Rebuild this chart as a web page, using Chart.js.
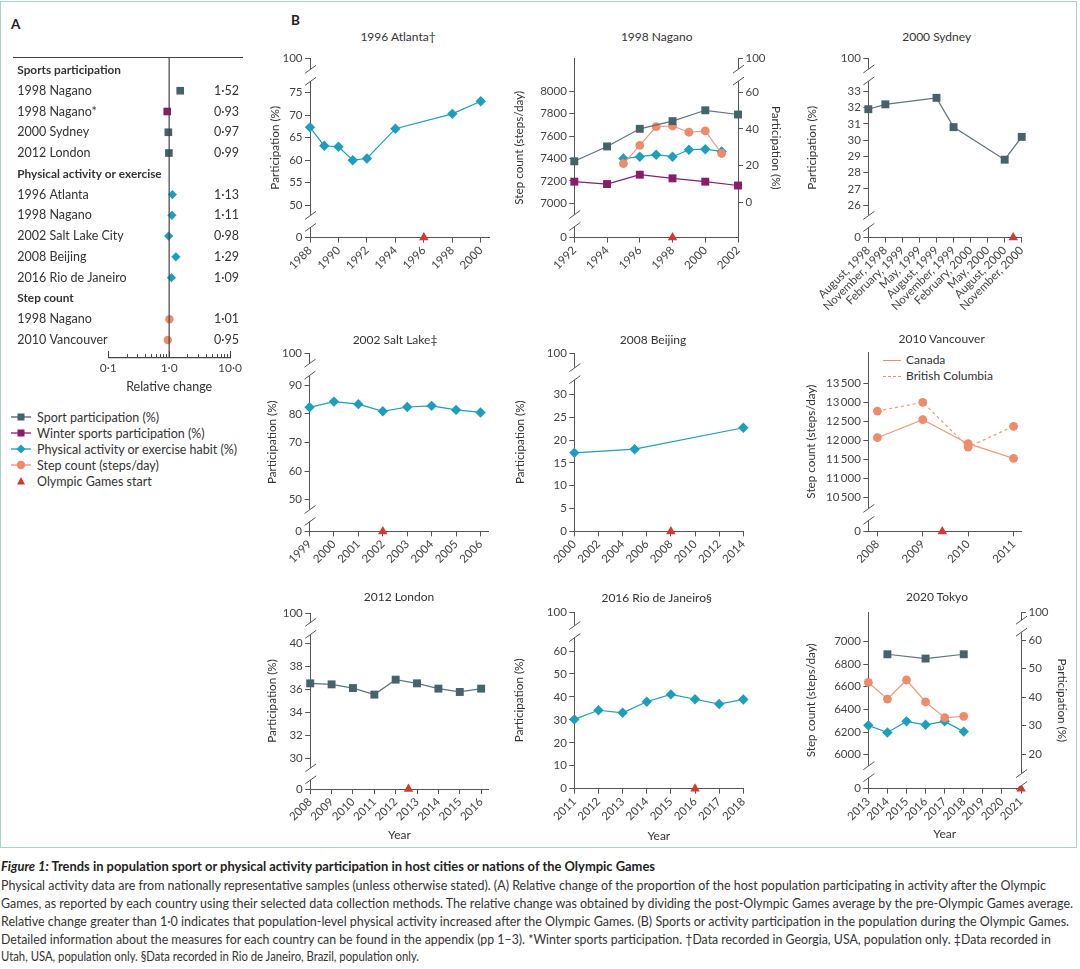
<!DOCTYPE html>
<html>
<head>
<meta charset="utf-8">
<title>Olympic Games physical activity trends</title>
<script src="https://cdn.jsdelivr.net/npm/chart.js@4.4.1/dist/chart.umd.min.js"></script>
<style>
  body { margin: 0; width: 1080px; height: 969px; position: relative; overflow: hidden; background: #fff;
         font-family: Lato, "Open Sans", sans-serif; color: #333; }
  #frame { position: absolute; left: 0; top: 1px; width: 1075px; height: 845px; border: 1.5px solid #a9d3c2; }
  .abs { position: absolute; white-space: nowrap; }
  .ttl { position: absolute; white-space: nowrap; font-size: 12px; color: #333; transform: translate(-50%, -50%); }
  .letter { position: absolute; font-weight: bold; font-size: 13.5px; color: #222; }
  .leg { position: absolute; left: 11px; font-size: 12.5px; color: #333; display: flex; align-items: center; height: 16px; }
  .leg svg { margin-right: 4px; }
  .cap { position: absolute; left: 1px; white-space: nowrap; font-size: 13px; line-height: 18px; color: #333; transform-origin: 0 50%; }
  canvas { position: absolute; }
</style>
</head>
<body>
<div id="frame"></div>
<div class="letter" style="left:11px;top:16px">A</div>
<div class="letter" style="left:291px;top:12px">B</div>
<div class="abs" style="left:12.7px;top:56.7px;width:230.6px;border-top:1.2px solid #444"></div>

<div class="leg" style="top:409px">
  <svg width="22" height="12"><line x1="0" y1="6" x2="20" y2="6" stroke="#46626b" stroke-width="1.3"/><rect x="6.5" y="2.5" width="7" height="7" fill="#46626b"/></svg>Sport participation (%)</div>
<div class="leg" style="top:425px">
  <svg width="22" height="12"><line x1="0" y1="6" x2="20" y2="6" stroke="#8a1c6e" stroke-width="1.3"/><rect x="6.5" y="2.5" width="7" height="7" fill="#8a1c6e"/></svg>Winter sports participation (%)</div>
<div class="leg" style="top:441px">
  <svg width="22" height="12"><line x1="0" y1="6" x2="20" y2="6" stroke="#1c9fbf" stroke-width="1.3"/><polygon points="10,1.5 14.5,6 10,10.5 5.5,6" fill="#1c9fbf"/></svg>Physical activity or exercise habit (%)</div>
<div class="leg" style="top:457px">
  <svg width="22" height="12"><line x1="0" y1="6" x2="20" y2="6" stroke="#ee8b6b" stroke-width="1.3"/><circle cx="10" cy="6" r="4.2" fill="#ee8b6b"/></svg>Step count (steps/day)</div>
<div class="leg" style="top:473px">
  <svg width="22" height="12"><polygon points="10,2 14,9.5 6,9.5" fill="#d9372c"/></svg>Olympic Games start</div>

<div class="abs" style="left:882.7px;top:360px;width:18.5px;border-top:1.2px solid #ee8b6b"></div>
<div class="abs" style="left:906px;top:352px;font-size:12px;color:#333">Canada</div>
<div class="abs" style="left:882.7px;top:376px;width:18.5px;border-top:1.2px dashed #ee8b6b"></div>
<div class="abs" style="left:906px;top:368px;font-size:12px;color:#333">British Columbia</div>

<span class="cap" data-w="654" style="top:857px;font-weight:bold;color:#222"><i>Figure 1:</i> Trends in population sport or physical activity participation in host cities or nations of the Olympic Games</span>
<span class="cap" data-w="1045" style="top:876px">Physical activity data are from nationally representative samples (unless otherwise stated). (A) Relative change of the proportion of the host population participating in activity after the Olympic</span>
<span class="cap" data-w="1072" style="top:894px">Games, as reported by each country using their selected data collection methods. The relative change was obtained by dividing the post-Olympic Games average by the pre-Olympic Games average.</span>
<span class="cap" data-w="1068" style="top:912px">Relative change greater than 1·0 indicates that population-level physical activity increased after the Olympic Games. (B) Sports or activity participation in the population during the Olympic Games.</span>
<span class="cap" data-w="1050" style="top:930px">Detailed information about the measures for each country can be found in the appendix (pp 1–3). *Winter sports participation. †Data recorded in Georgia, USA, population only. ‡Data recorded in</span>
<span class="cap" data-w="418" style="top:947px">Utah, USA, population only. §Data recorded in Rio de Janeiro, Brazil, population only.</span>

<script>
// ---- Panel A: relative change after the Games ----
const forestLabels = ['Sports participation', '1998 Nagano', '1998 Nagano*', '2000 Sydney', '2012 London',
  'Physical activity or exercise', '1996 Atlanta', '1998 Nagano', '2002 Salt Lake City', '2008 Beijing',
  '2016 Rio de Janeiro', 'Step count', '1998 Nagano', '2010 Vancouver'];
const forestHeaders = [0, 5, 11];
const forestKinds = [null, 'sport', 'winter', 'sport', 'sport', null, 'pa', 'pa', 'pa', 'pa', 'pa', null, 'step', 'step'];
const forestValues = [null, 1.52, 0.93, 0.97, 0.99, null, 1.13, 1.11, 0.98, 1.29, 1.09, null, 1.01, 0.95];
const logTicks = [0.1, 1, 10];
const logTickLabels = ['0·1', '1·0', '10·0'];
const logMinorTicks = [0.2, 0.3, 0.4, 0.5, 0.6, 0.7, 0.8, 0.9, 2, 3, 4, 5, 6, 7, 8, 9];

// ---- 1996 Atlanta ----
const atlantaYears = [1988, 1989, 1990, 1991, 1992, 1994, 1998, 2000];
const atlantaActivity = [67.3, 63.2, 63.0, 60.0, 60.4, 67.0, 70.3, 73.1];
const atlantaXTicks = [1988, 1990, 1992, 1994, 1996, 1998, 2000];
const atlantaYTicks = [0, 50, 55, 60, 65, 70, 75, 100];
const atlantaStart = 1996;

// ---- 1998 Nagano ----
const naganoSportYears = [1992, 1994, 1996, 1998, 2000, 2002];
const naganoSport = [22.3, 30.4, 40.0, 44.2, 50.1, 47.8];
const naganoWinter = [11.2, 9.9, 15.0, 13.0, 11.2, 9.1];
const naganoActivityYears = [1995, 1996, 1997, 1998, 1999, 2000, 2001];
const naganoActivity = [23.8, 24.8, 25.9, 24.8, 28.6, 28.9, 27.7];
const naganoSteps = [7355, 7518, 7685, 7691, 7635, 7647, 7445];
const naganoXTicks = [1992, 1994, 1996, 1998, 2000, 2002];
const naganoStepTicks = [0, 7000, 7200, 7400, 7600, 7800, 8000];
const naganoPctTicks = [0, 20, 40, 60, 100];
const naganoStart = 1998;

// ---- 2000 Sydney (quarterly surveys) ----
const sydneyTickLabels = ['August, 1998', 'November, 1998', 'February, 1999', 'May, 1999', 'August, 1999',
  'November, 1999', 'February, 2000', 'May, 2000', 'August, 2000', 'November, 2000'];
const sydneyXTicks = [0, 1, 2, 3, 4, 5, 6, 7, 8, 9];
const sydneyQuarters = [0, 1, 4, 5, 8, 9];
const sydneySport = [31.9, 32.2, 32.6, 30.8, 28.8, 30.2];
const sydneyYTicks = [0, 26, 27, 28, 29, 30, 31, 32, 33, 100];
const sydneyStart = 8.5;

// ---- 2002 Salt Lake ----
const saltLakeYears = [1999, 2000, 2001, 2002, 2003, 2004, 2005, 2006];
const saltLakeActivity = [82.3, 84.3, 83.4, 80.9, 82.4, 82.8, 81.4, 80.5];
const saltLakeYTicks = [0, 50, 60, 70, 80, 90, 100];
const saltLakeStart = 2002;

// ---- 2008 Beijing ----
const beijingYears = [2000, 2005, 2014];
const beijingActivity = [17.2, 18.0, 22.7];
const beijingXTicks = [2000, 2002, 2004, 2006, 2008, 2010, 2012, 2014];
const beijingYTicks = [0, 5, 10, 15, 20, 25, 30, 100];
const beijingStart = 2008;

// ---- 2010 Vancouver ----
const vancouverYears = [2008, 2009, 2010, 2011];
const vancouverCanada = [12065, 12538, 11908, 11523];
const vancouverBC = [12765, 12993, 11820, 12363];
const vancouverYTicks = [0, 10500, 11000, 11500, 12000, 12500, 13000, 13500];
const vancouverStart = 2009.43;

// ---- 2012 London ----
const londonYears = [2008, 2009, 2010, 2011, 2012, 2013, 2014, 2015, 2016];
const londonSport = [36.55, 36.46, 36.14, 35.57, 36.87, 36.55, 36.09, 35.80, 36.09];
const londonYTicks = [0, 30, 32, 34, 36, 38, 40, 100];
const londonStart = 2012.6;

// ---- 2016 Rio de Janeiro ----
const rioYears = [2011, 2012, 2013, 2014, 2015, 2016, 2017, 2018];
const rioActivity = [30.2, 34.2, 33.1, 37.9, 41.1, 39.0, 36.9, 38.9];
const rioYTicks = [0, 10, 20, 30, 40, 50, 60, 100];
const rioStart = 2016;

// ---- 2020 Tokyo ----
const tokyoSportYears = [2014, 2016, 2018];
const tokyoSport = [55.1, 53.6, 55.1];
const tokyoYears = [2013, 2014, 2015, 2016, 2017, 2018];
const tokyoSteps = [6638, 6491, 6659, 6465, 6326, 6338];
const tokyoActivity = [30.1, 27.6, 31.5, 30.3, 31.5, 27.9];
const tokyoXTicks = [2013, 2014, 2015, 2016, 2017, 2018, 2019, 2020, 2021];
const tokyoStepTicks = [0, 6000, 6200, 6400, 6600, 6800, 7000];
const tokyoPctTicks = [20, 30, 40, 50, 60, 100];
const tokyoStart = 2021;

// ---- styles ----
const FONT = 'Lato, "Open Sans", sans-serif';
const AXIS = '#555';
const TICK_TEXT = '#444';
const TEXT = '#333';
const GREY = '#46626b';
const PURPLE = '#8a1c6e';
const TEAL = '#1c9fbf';
const ORANGE = '#ee8b6b';
const RED = '#d9372c';

const kindStyle = {
  sport:  { color: GREY,   line: '#5b747c', style: 'rect',    r: 5.6 },
  winter: { color: PURPLE, line: PURPLE,    style: 'rect',    r: 5.6 },
  pa:     { color: TEAL,   line: TEAL,      style: 'rectRot', r: 5.2 },
  step:   { color: ORANGE, line: '#f09b7e', style: 'circle',  r: 4.4 }
};

// y scale with broken segments: "stops" maps values to axis fractions piecewise
class BrokenScale extends Chart.LinearScale {
  static id = 'broken';
  _frac(v) {
    const s = this.options.stops;
    for (let i = 1; i < s.length; i++) {
      if (v <= s[i][0] || i === s.length - 1) {
        const a = s[i - 1], b = s[i];
        return a[1] + (v - a[0]) * (b[1] - a[1]) / (b[0] - a[0]);
      }
    }
  }
  getPixelForValue(v) {
    if (v === null || v === undefined || isNaN(v)) return NaN;
    return this.getPixelForDecimal(this._frac(v));
  }
  getValueForPixel(px) {
    const d = this.getDecimalForPixel(px);
    const s = this.options.stops;
    for (let i = 1; i < s.length; i++) {
      if (d <= s[i][1] || i === s.length - 1) {
        const a = s[i - 1], b = s[i];
        return a[0] + (d - a[1]) * (b[0] - a[0]) / (b[1] - a[1]);
      }
    }
  }
}
Chart.register(BrokenScale);

// double-slash marks where an axis is broken
const breakMarks = {
  id: 'breakMarks',
  afterDraw(chart) {
    const ctx = chart.ctx;
    Object.values(chart.scales).forEach(s => {
      const br = s.options.breaks;
      if (!br || !br.length) return;
      const x = s.position === 'left' ? s.right : s.left;
      br.forEach(v => {
        const y = s.getPixelForValue(v);
        ctx.save();
        ctx.fillStyle = '#fff';
        ctx.fillRect(x - 2, y - 6, 4, 12);
        ctx.strokeStyle = AXIS;
        ctx.lineWidth = 1;
        [-6, 6].forEach(d => {
          ctx.beginPath();
          ctx.moveTo(x - 5, y + d + 4);
          ctx.lineTo(x + 6, y + d - 4);
          ctx.stroke();
        });
        ctx.restore();
      });
    });
  }
};

const fmtNum = v => v >= 10000 ? String(v).replace(/(\d+)(\d{3})$/, '$1\u2009$2') : String(v);
const tickFont = { family: FONT, size: 11.5 };
const titleFont = { family: FONT, size: 11.7 };
const titleOff = 11.7 * 1.2 / 2;

function addCanvas(id, left, top, w, h) {
  const c = document.createElement('canvas');
  c.id = id;
  c.width = w; c.height = h;
  c.style.left = left + 'px';
  c.style.top = top + 'px';
  c.style.width = w + 'px';
  c.style.height = h + 'px';
  document.body.appendChild(c);
  return c;
}

function addTitle(text, x, y) {
  const d = document.createElement('div');
  d.className = 'ttl';
  d.style.left = x + 'px';
  d.style.top = y + 'px';
  d.textContent = text;
  document.body.appendChild(d);
}

function yAxis(cfg, position, width) {
  return {
    type: 'broken', position,
    stops: cfg.stops, breaks: cfg.breaks,
    min: cfg.stops[0][0], max: cfg.stops[cfg.stops.length - 1][0],
    afterBuildTicks: s => { s.ticks = cfg.ticks.map(v => ({ value: v })); },
    afterFit: s => { s.width = width; s.paddingTop = 0; s.paddingBottom = 0; },
    border: { display: true, color: AXIS, width: 1 },
    grid: { display: true, drawOnChartArea: false, drawTicks: true, tickLength: 5, color: AXIS },
    ticks: { color: TICK_TEXT, font: tickFont, padding: 2.5, callback: v => fmtNum(v) },
    title: { display: true, text: cfg.title, color: TEXT, font: titleFont, padding: 0 }
  };
}

function buildPanel(p) {
  const cl = p.yTitleX - titleOff;
  const ct = p.T - 12;
  const rightW = p.y1 ? p.y1.titleX + titleOff - p.R : 0;
  const rightEdge = p.y1 ? p.y1.titleX + titleOff : p.R + 14;
  const w = Math.ceil(rightEdge - cl);
  const h = Math.ceil(p.B + p.xH - ct);
  const canvas = addCanvas(p.id, cl, ct, w, h);
  addTitle(p.title, p.titleX, p.titleY);

  const datasets = p.series.map(s => {
    const st = kindStyle[s.kind];
    return {
      type: 'line',
      data: s.xs.map((x, i) => ({ x, y: s.ys[i] })),
      yAxisID: s.axis || 'y',
      borderColor: st.line, borderWidth: 1.2, borderDash: s.dash || [],
      pointStyle: st.style, pointRadius: st.r, pointBackgroundColor: st.color, pointBorderWidth: 0,
      tension: 0, clip: false
    };
  });
  datasets.push({
    type: 'line', data: [{ x: p.start, y: 0 }], yAxisID: 'y', showLine: false,
    pointStyle: 'triangle', pointRadius: 5.5, pointBackgroundColor: RED, pointBorderWidth: 0, clip: false
  });

  const xLabels = p.x.labels;
  const scales = {
    x: {
      type: 'linear', min: p.x.min, max: p.x.max,
      afterBuildTicks: s => { s.ticks = p.x.ticks.map(v => ({ value: v })); },
      afterFit: s => { s.height = p.xH; s.paddingLeft = 0; s.paddingRight = 0; },
      border: { display: true, color: AXIS, width: 1 },
      grid: { display: true, drawOnChartArea: false, drawTicks: true, tickLength: 5, color: AXIS },
      ticks: { autoSkip: false, minRotation: 45, maxRotation: 45, padding: 1, color: TICK_TEXT, font: tickFont,
               callback: (v, i) => xLabels ? xLabels[i] : String(v) },
      title: { display: !!p.xTitle, text: p.xTitle || '', color: TEXT, font: { family: FONT, size: 12 }, padding: 0 }
    },
    y: yAxis(p.y, 'left', p.L - cl)
  };
  if (p.y1) {
    scales.y1 = yAxis(p.y1, 'right', rightW);
  }

  new Chart(canvas, {
    type: 'line',
    data: { datasets },
    options: {
      responsive: false, animation: false, events: [],
      layout: { autoPadding: false, padding: { left: 0, top: p.T - ct, right: w - (p.R - cl) - rightW, bottom: h - (p.B - ct) - p.xH } },
      plugins: { legend: { display: false }, tooltip: { enabled: false }, title: { display: false } },
      scales
    },
    plugins: [breakMarks]
  });
}

const panels = [
  { id: 'atlanta', title: '1996 Atlanta†', titleX: 398, titleY: 36, yTitleX: 275,
    L: 310, T: 57.7, R: 489, B: 237.3, xH: 60,
    x: { min: 1988, max: 2000.58, ticks: atlantaXTicks },
    y: { title: 'Participation (%)', stops: [[0, 0], [50, 0.18], [75, 0.807], [100, 1]], ticks: atlantaYTicks, breaks: [25, 87.5] },
    series: [{ xs: atlantaYears, ys: atlantaActivity, kind: 'pa' }], start: atlantaStart },
  { id: 'nagano', title: '1998 Nagano', titleX: 656.7, titleY: 36, yTitleX: 519,
    L: 574.3, T: 57.7, R: 738, B: 237.3, xH: 60,
    x: { min: 1992, max: 2002, ticks: naganoXTicks },
    y: { title: 'Step count (steps/day)', stops: [[0, 0], [7000, 0.191], [8000, 0.814], [8300, 1]], ticks: naganoStepTicks, breaks: [3500] },
    y1: { title: 'Participation (%)', titleX: 775.7, stops: [[-19.3, 0], [0, 0.197], [60, 0.81], [100, 1]], ticks: naganoPctTicks, breaks: [80] },
    series: [
      { xs: naganoSportYears, ys: naganoSport, kind: 'sport', axis: 'y1' },
      { xs: naganoSportYears, ys: naganoWinter, kind: 'winter', axis: 'y1' },
      { xs: naganoActivityYears, ys: naganoSteps, kind: 'step', axis: 'y' },
      { xs: naganoActivityYears, ys: naganoActivity, kind: 'pa', axis: 'y1' }
    ], start: naganoStart },
  { id: 'sydney', title: '2000 Sydney', titleX: 936.7, titleY: 36, yTitleX: 812,
    L: 868.3, T: 57.7, R: 1021.7, B: 237.3, xH: 95,
    x: { min: 0, max: 9, ticks: sydneyXTicks, labels: sydneyTickLabels },
    y: { title: 'Participation (%)', stops: [[0, 0], [26, 0.18], [33, 0.8145], [100, 1]], ticks: sydneyYTicks, breaks: [13, 66] },
    series: [{ xs: sydneyQuarters, ys: sydneySport, kind: 'sport' }], start: sydneyStart },
  { id: 'saltlake', title: '2002 Salt Lake‡', titleX: 395, titleY: 339, yTitleX: 272.5,
    L: 310, T: 353.3, R: 489.3, B: 531.7, xH: 60,
    x: { min: 1999, max: 2006.34, ticks: saltLakeYears },
    y: { title: 'Participation (%)', stops: [[0, 0], [50, 0.178], [90, 0.819], [100, 1]], ticks: saltLakeYTicks, breaks: [25, 95] },
    series: [{ xs: saltLakeYears, ys: saltLakeActivity, kind: 'pa' }], start: saltLakeStart },
  { id: 'beijing', title: '2008 Beijing', titleX: 653, titleY: 338.7, yTitleX: 520,
    L: 574.3, T: 353.3, R: 743.3, B: 531.7, xH: 60,
    x: { min: 2000, max: 2014, ticks: beijingXTicks },
    y: { title: 'Participation (%)', stops: [[0, 0], [30, 0.768], [100, 1]], ticks: beijingYTicks, breaks: [65] },
    series: [{ xs: beijingYears, ys: beijingActivity, kind: 'pa' }], start: beijingStart },
  { id: 'vancouver', title: '2010 Vancouver', titleX: 941.7, titleY: 338.3, yTitleX: 811,
    L: 868.3, T: 352.3, R: 1021.7, B: 531.7, xH: 60,
    x: { min: 2007.8, max: 2011.18, ticks: vancouverYears },
    y: { title: 'Step count (steps/day)', stops: [[0, 0], [10500, 0.19], [13500, 0.827], [14313, 1]], ticks: vancouverYTicks, breaks: [5250] },
    series: [
      { xs: vancouverYears, ys: vancouverBC, kind: 'step', dash: [3, 3] },
      { xs: vancouverYears, ys: vancouverCanada, kind: 'step' }
    ], start: vancouverStart },
  { id: 'london', title: '2012 London', titleX: 399, titleY: 595.7, yTitleX: 272.5,
    L: 310.7, T: 613.3, R: 489.3, B: 789.3, xH: 52.9, xTitle: 'Year',
    x: { min: 2008, max: 2016.36, ticks: londonYears },
    y: { title: 'Participation (%)', stops: [[0, 0], [30, 0.172], [40, 0.826], [100, 1]], ticks: londonYTicks, breaks: [15, 70] },
    series: [{ xs: londonYears, ys: londonSport, kind: 'sport' }], start: londonStart },
  { id: 'rio', title: '2016 Rio de Janeiro§', titleX: 656.7, titleY: 596.7, yTitleX: 519,
    L: 574.3, T: 612.3, R: 743.3, B: 789, xH: 54.2, xTitle: 'Year',
    x: { min: 2011, max: 2018, ticks: rioYears },
    y: { title: 'Participation (%)', stops: [[0, 0], [60, 0.779], [100, 1]], ticks: rioYTicks, breaks: [80] },
    series: [{ xs: rioYears, ys: rioActivity, kind: 'pa' }], start: rioStart },
  { id: 'tokyo', title: '2020 Tokyo', titleX: 937, titleY: 595.7, yTitleX: 811,
    L: 868.3, T: 612.3, R: 1021, B: 789, xH: 52.2, xTitle: 'Year',
    x: { min: 2013, max: 2021, ticks: tokyoXTicks },
    y: { title: 'Step count (steps/day)', stops: [[0, 0], [6000, 0.1925], [7000, 0.834], [7259, 1]], ticks: tokyoStepTicks, breaks: [3000] },
    y1: { title: 'Participation (%)', titleX: 1062, stops: [[7.8, 0], [20, 0.196], [60, 0.8396], [100, 1]], ticks: tokyoPctTicks, breaks: [11, 80] },
    series: [
      { xs: tokyoSportYears, ys: tokyoSport, kind: 'sport', axis: 'y1' },
      { xs: tokyoYears, ys: tokyoSteps, kind: 'step', axis: 'y' },
      { xs: tokyoYears, ys: tokyoActivity, kind: 'pa', axis: 'y1' }
    ], start: tokyoStart }
];

panels.forEach(buildPanel);

// ---- Panel A forest plot ----
const A = { cl: 0, ct: 40, w: 262, L: 108.3, R: 230, T: 57.3, B: 358, labelX: 17.3, valueRight: 239, xH: 36.5 };
const rowMin = -0.61, rowMax = 13.87;
const aHeight = Math.ceil(A.B + A.xH - A.ct);
const canvasA = addCanvas('forest', A.cl, A.ct, A.w, aHeight);
const rowIdx = forestLabels.map((_, i) => i);
const fmtRel = v => v.toFixed(2).replace('.', '·');

// inward ticks on the log axis (minor ones shorter)
const forestTicks = {
  id: 'forestTicks',
  afterDraw(chart) {
    const s = chart.scales.x, ctx = chart.ctx, b = chart.chartArea.bottom;
    ctx.save();
    ctx.strokeStyle = '#444';
    ctx.lineWidth = 1;
    logMinorTicks.concat(logTicks).forEach(v => {
      const x = Math.round(s.getPixelForValue(v)) + 0.5;
      const len = logTicks.includes(v) ? 7 : 4;
      ctx.beginPath();
      ctx.moveTo(x, b);
      ctx.lineTo(x, b - len);
      ctx.stroke();
    });
    ctx.restore();
  }
};

const forestDatasets = ['sport', 'winter', 'pa', 'step'].map(k => {
  const st = kindStyle[k];
  return {
    data: forestValues.map((v, i) => forestKinds[i] === k ? { x: v, y: i } : null).filter(Boolean),
    pointStyle: st.style, pointRadius: k === 'pa' ? 4.6 : (k === 'step' ? 4.2 : 5.4),
    pointBackgroundColor: st.color, pointBorderWidth: 0, showLine: false, clip: false
  };
});
forestDatasets.unshift({
  type: 'line', data: [{ x: 1, y: rowMin }, { x: 1, y: rowMax }],
  borderColor: '#444', borderWidth: 1.2, pointRadius: 0, clip: false
});

const aLeftW = A.L - A.labelX;
new Chart(canvasA, {
  type: 'scatter',
  data: { datasets: forestDatasets },
  options: {
    responsive: false, animation: false, events: [],
    layout: { autoPadding: false, padding: { left: A.labelX - A.cl, top: A.T - A.ct, right: 0, bottom: aHeight - (A.B - A.ct) - A.xH } },
    plugins: { legend: { display: false }, tooltip: { enabled: false } },
    scales: {
      x: {
        type: 'logarithmic', min: 0.1, max: 10,
        afterBuildTicks: s => { s.ticks = logTicks.map(v => ({ value: v })); },
        afterFit: s => { s.height = A.xH; s.paddingLeft = 0; s.paddingRight = 0; },
        border: { display: true, color: '#444', width: 1.2 },
        grid: { display: false, drawTicks: false },
        ticks: { autoSkip: false, maxRotation: 0, padding: 3, color: TICK_TEXT, font: { family: FONT, size: 12 },
                 callback: (v, i) => logTickLabels[i] },
        title: { display: true, text: 'Relative change', color: TEXT, font: { family: FONT, size: 12.5 }, padding: 0 }
      },
      // row labels, mirrored so they are not clipped to the axis box
      y: {
        type: 'linear', position: 'left', reverse: true, min: rowMin, max: rowMax,
        afterBuildTicks: s => { s.ticks = rowIdx.map(v => ({ value: v })); },
        afterFit: s => { s.width = aLeftW; s.paddingTop = 0; s.paddingBottom = 0; },
        border: { display: false }, grid: { display: false, drawTicks: false },
        ticks: { autoSkip: false, mirror: true, crossAlign: 'near', padding: -aLeftW, color: '#333',
                 font: ctx => forestHeaders.includes(ctx.index)
                   ? { family: FONT, size: 11.8, weight: 'bold' }
                   : { family: FONT, size: 12.5, weight: 'normal' },
                 callback: (v, i) => forestLabels[i] }
      },
      yv: {
        type: 'linear', position: 'right', reverse: true, min: rowMin, max: rowMax,
        afterBuildTicks: s => { s.ticks = rowIdx.map(v => ({ value: v })); },
        afterFit: s => { s.width = A.w - A.R; s.paddingTop = 0; s.paddingBottom = 0; },
        border: { display: false }, grid: { display: false, drawTicks: false },
        ticks: { autoSkip: false, mirror: true, crossAlign: 'near', padding: A.valueRight - A.R, color: '#333',
                 font: { family: FONT, size: 12.5 },
                 callback: (v, i) => forestValues[i] === null ? '' : fmtRel(forestValues[i]) }
      }
    }
  },
  plugins: [forestTicks]
});

// fit the caption lines to the widths they have in the printed figure
document.querySelectorAll('.cap').forEach(el => {
  const target = parseFloat(el.dataset.w);
  const width = el.getBoundingClientRect().width;
  if (width > 0) el.style.transform = `scaleX(${(target / width).toFixed(4)})`;
});
</script>
</body>
</html>
